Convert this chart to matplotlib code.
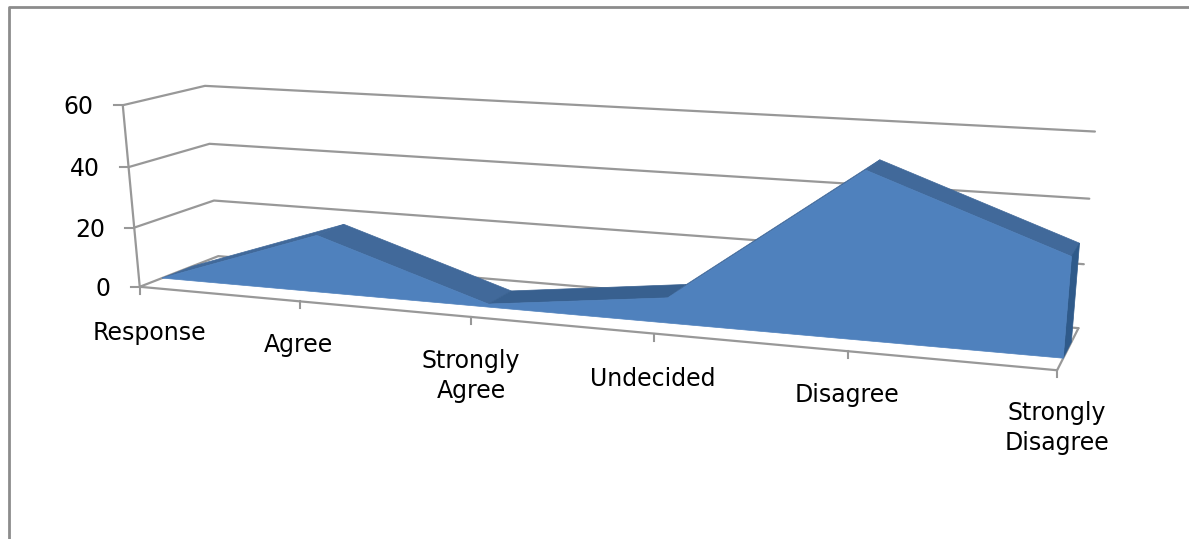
import numpy as np
import matplotlib
matplotlib.use('Agg')
import matplotlib.pyplot as plt
from matplotlib.patches import Polygon

categories = ['Response', 'Agree', 'Strongly\nAgree', 'Undecided', 'Disagree', 'Strongly\nDisagree']
responses = [0, 19, 1, 8, 51, 30]
yTicks = [0, 20, 40, 60]

# world point (category, value, depth) -> pixel, used to fit the camera
cameraWorld = [(0, 0, 0), (1, 0, 0), (2, 0, 0), (3, 0, 0), (4, 0, 0), (5, 0, 0),
               (0, 20, 0), (0, 40, 0), (0, 60, 0),
               (0, 20, 1), (0, 40, 1), (0, 60, 1),
               (5, 0, 1), (5, 20, 1), (5, 40, 1), (5, 60, 1)]
cameraPixels = [(140, 286.5), (299, 301), (472, 317), (655, 335), (848, 353), (1056, 371),
                (134, 226), (129, 166), (123, 105),
                (215, 200.7), (208, 145), (205, 87),
                (1078, 327), (1085, 263), (1089, 198), (1095, 131.7)]

GRID = '#989898'
FRONT = '#4f81bd'
TOP = '#41699a'
TOP_DARK = '#38608f'
SIDE = '#2f5a8a'
FRONT_DEPTH = 0.27
BACK_DEPTH = 0.65
FONT = 'DejaVu Sans'


def fitCamera(world, pixels):
    rows = []
    rhs = []
    for (c, v, d), (px, py) in zip(world, pixels):
        rows.append([c, v, d, 1, 0, 0, 0, 0, -px * c, -px * v, -px * d])
        rows.append([0, 0, 0, 0, c, v, d, 1, -py * c, -py * v, -py * d])
        rhs += [px, py]
    sol = np.linalg.lstsq(np.array(rows, float), np.array(rhs, float), rcond=None)[0]
    return np.append(sol, 1).reshape(3, 4)


camera = fitCamera(cameraWorld, cameraPixels)


def project(c, v, d):
    p = camera @ np.array([c, v, d, 1.0])
    return p[0] / p[2], p[1] / p[2]


def gridLine(ax, points, lw=1.6):
    xs, ys = zip(*[project(*p) for p in points])
    ax.plot(xs, ys, color=GRID, lw=lw, solid_capstyle='round', zorder=2)


fig = plt.figure(figsize=(11.89, 5.39), dpi=100)
ax = fig.add_axes([0, 0, 1, 1])
ax.set_xlim(0, 1189)
ax.set_ylim(539, 0)
ax.axis('off')

# chart frame, only the left and top edges show
ax.plot([9, 9, 1189], [539, 7, 7], color='#8c8c8c', lw=2.0, zorder=1)

# walls and floor
for value in yTicks:
    gridLine(ax, [(0, value, 0), (0, value, 1), (5, value, 1)])
gridLine(ax, [(0, 0, 0), (0, 60, 0)])
gridLine(ax, [(0, 0, 0), (5, 0, 0), (5, 0, 1)])

for value in yTicks:
    x, y = project(0, value, 0)
    ax.plot([x - 9, x], [y, y], color=GRID, lw=1.5, zorder=2)
    ax.text(x - 29, y + 2, str(value), ha='right', va='center', fontsize=17,
            family=FONT, color='black')

for i in range(len(categories)):
    x, y = project(i, 0, 0)
    ax.plot([x, x], [y, y + 7], color=GRID, lw=1.5, zorder=2)

labelCentres = [(149, 333), (298, 345), (471, 376), (653, 379), (847, 395), (1057, 428)]
for label, (x, y) in zip(categories, labelCentres):
    ax.text(x, y, label, ha='center', va='center', fontsize=17, family=FONT,
            color='black', linespacing=1.35)

# 3D area: top bands between the two depths, side cap, then the front face
count = len(responses)
for i in range(count - 1):
    band = [project(i, responses[i], FRONT_DEPTH), project(i + 1, responses[i + 1], FRONT_DEPTH),
            project(i + 1, responses[i + 1], BACK_DEPTH), project(i, responses[i], BACK_DEPTH)]
    colour = TOP_DARK if i == 2 else TOP
    ax.add_patch(Polygon(band, closed=True, facecolor=colour, edgecolor=colour, lw=0.5, zorder=3))

side = [project(count - 1, 0, FRONT_DEPTH), project(count - 1, responses[-1], FRONT_DEPTH),
        project(count - 1, responses[-1], BACK_DEPTH), project(count - 1, 0, BACK_DEPTH)]
ax.add_patch(Polygon(side, closed=True, facecolor=SIDE, edgecolor=SIDE, lw=0.5, zorder=3))

front = [project(0, 0, FRONT_DEPTH)]
front += [project(i, responses[i], FRONT_DEPTH) for i in range(count)]
front += [project(count - 1, 0, FRONT_DEPTH)]
ax.add_patch(Polygon(front, closed=True, facecolor=FRONT, edgecolor=FRONT, lw=0.5, zorder=4))

fig.savefig('out.png', dpi=100)
